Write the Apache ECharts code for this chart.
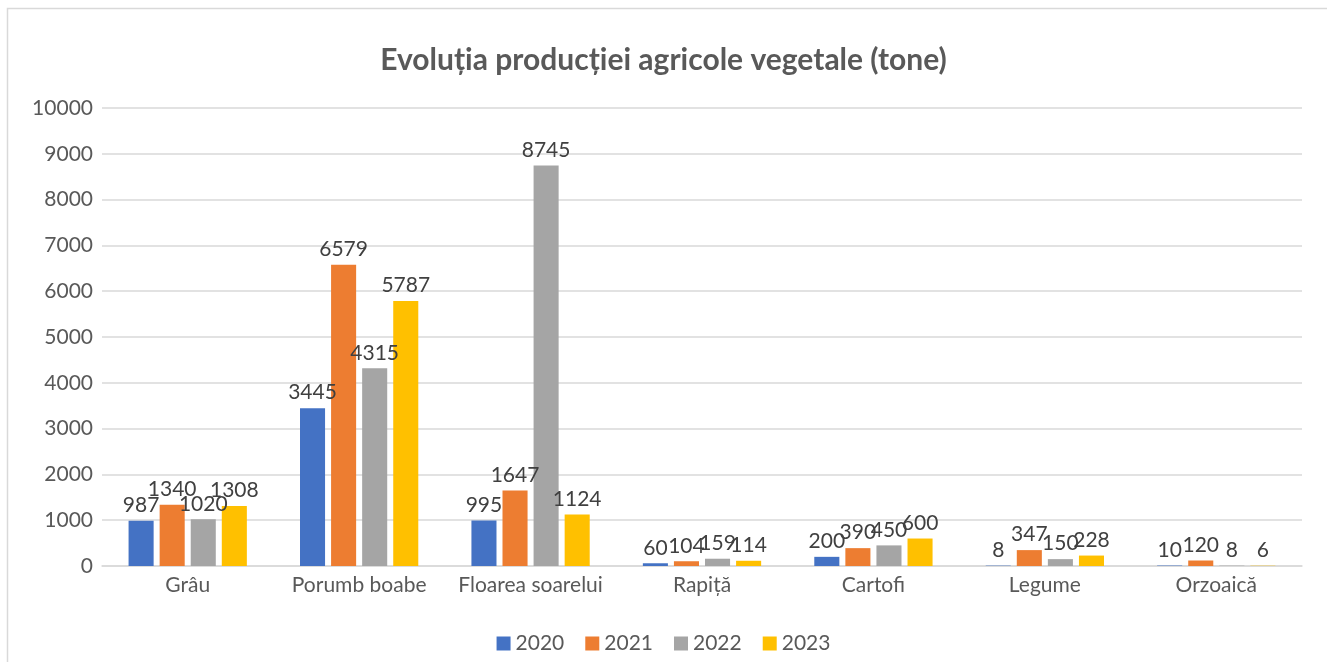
<!DOCTYPE html>
<html>
<head>
<meta charset="utf-8">
<script src="https://cdn.jsdelivr.net/npm/echarts@6/dist/echarts.min.js"></script>
<style>
  html, body { margin: 0; padding: 0; background: #fff; }
  #main { width: 1327px; height: 662px; }
</style>
</head>
<body>
<div id="main"></div>
<script>
var categories = ["Grâu", "Porumb boabe", "Floarea soarelui", "Rapiță", "Cartofi", "Legume", "Orzoaică"];
var years = ["2020", "2021", "2022", "2023"];
var v2020 = [987, 3445, 995, 60, 200, 8, 10];
var v2021 = [1340, 6579, 1647, 104, 390, 347, 120];
var v2022 = [1020, 4315, 8745, 159, 450, 150, 8];
var v2023 = [1308, 5787, 1124, 114, 600, 228, 6];
var yTicks = [0, 10000, 1000];

var colors = ["#4472C4", "#ED7D31", "#A5A5A5", "#FFC000"];
var font = "Lato, 'Open Sans', sans-serif";

var chart = echarts.init(document.getElementById("main"));

function bar(name, data) {
  return {
    name: name,
    type: "bar",
    data: data,
    barGap: "24%",
    barCategoryGap: "31%",
    label: {
      show: true,
      position: "top",
      distance: 5,
      color: "#404040",
      fontSize: 21,
      fontFamily: font
    }
  };
}

var option = {
  animation: false,
  color: colors,
  title: {
    text: "Evoluția producției agricole vegetale (tone)",
    left: "center",
    top: 40,
    textStyle: { color: "#595959", fontSize: 30, fontWeight: "bold", fontFamily: font }
  },
  legend: {
    bottom: 3,
    left: "center",
    itemWidth: 14,
    itemHeight: 14,
    itemGap: 21,
    icon: "rect",
    textStyle: { color: "#595959", fontSize: 21, fontFamily: font }
  },
  grid: { left: 102, right: 25, top: 108, bottom: 96, containLabel: false },
  xAxis: {
    type: "category",
    data: categories,
    axisLine: { lineStyle: { color: "#D9D9D9", width: 1.5 } },
    axisTick: { show: false },
    axisLabel: { color: "#595959", fontSize: 21, fontFamily: font, margin: 9, interval: 0 }
  },
  yAxis: {
    type: "value",
    min: yTicks[0],
    max: yTicks[1],
    interval: yTicks[2],
    axisLine: { show: false },
    axisTick: { show: false },
    splitLine: { lineStyle: { color: "#D9D9D9", width: 1.5 } },
    axisLabel: {
      color: "#595959", fontSize: 21, fontFamily: font, margin: 9,
      formatter: function (v) { return String(v); }
    }
  },
  graphic: [{
    type: "rect",
    shape: { x: 7.5, y: 8.5, width: 1330, height: 670 },
    style: { fill: "none", stroke: "#D9D9D9", lineWidth: 1.5 },
    silent: true
  }],
  series: [
    bar(years[0], v2020),
    bar(years[1], v2021),
    bar(years[2], v2022),
    bar(years[3], v2023)
  ]
};

chart.setOption(option);
</script>
</body>
</html>
